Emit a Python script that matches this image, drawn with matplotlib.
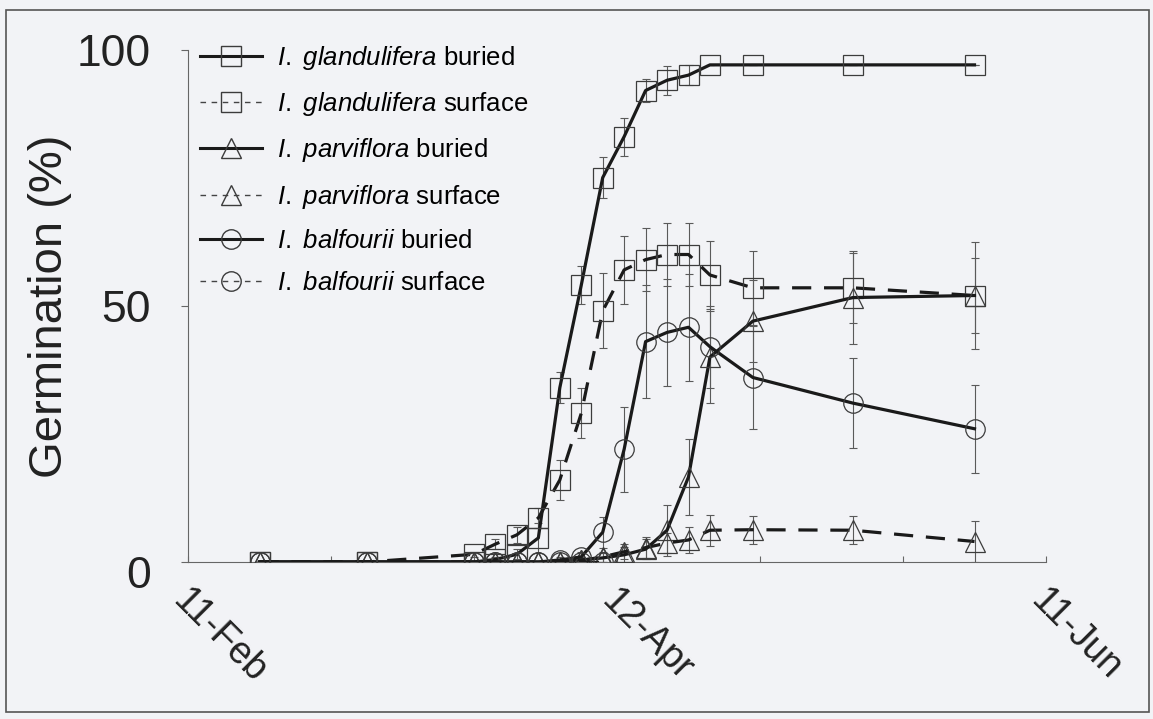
import datetime as dt

import matplotlib
matplotlib.use("Agg")
import matplotlib.pyplot as plt
import matplotlib.dates as mdates
from matplotlib.lines import Line2D
from matplotlib.patches import Rectangle
from matplotlib.transforms import ScaledTranslation

plt.rcParams['font.family'] = ['Liberation Sans', 'DejaVu Sans']
plt.rcParams['mathtext.fontset'] = 'custom'
plt.rcParams['mathtext.rm'] = 'Liberation Sans'
plt.rcParams['mathtext.it'] = 'Liberation Sans:italic'

# ---- data -------------------------------------------------------------
sample_dates = ["2013-02-21", "2013-03-08", "2013-03-23", "2013-03-26",
                "2013-03-29", "2013-04-01", "2013-04-04", "2013-04-07",
                "2013-04-10", "2013-04-13", "2013-04-16", "2013-04-19",
                "2013-04-22", "2013-04-25", "2013-05-01", "2013-05-15",
                "2013-06-01"]

gland_buried = [0, 0, 0, 0.5, 1.5, 4.7, 34, 54, 75, 83, 92, 94, 95, 97, 97, 97, 97]
gland_buried_se = [0, 0, 0, 0.5, 1, 3, 3, 3.7, 4, 3.7, 2.3, 2.8, 2, 0, 0, 0, 0]

gland_surface = [0, 0, 1.5, 3.5, 5.3, 8.6, 16, 29, 49, 57, 59, 60, 60, 56, 53.5, 53.5, 52]
gland_surface_se = [0, 0, 0.5, 1, 1.5, 2, 3.9, 4.9, 7.3, 6.7, 6.2, 6.2, 6.2, 6.6, 7.2, 6.8, 10.4]

parvi_buried = [0, 0, 0, 0, 0, 0, 0, 0.4, 0.8, 1.4, 2.5, 6.2, 16.6, 40, 47, 51.6, 52]
parvi_buried_se = [0, 0, 0, 0, 0, 0, 0, 0.5, 1, 1.5, 2, 5, 7.4, 9, 8, 9, 7.3]

parvi_surface = [0, 0, 0, 0, 0, 0, 0, 0.3, 1.0, 2.0, 2.8, 3.7, 4.3, 6.2, 6.3, 6.2, 4.0]
parvi_surface_se = [0, 0, 0, 0, 0, 0, 0, 0.5, 1, 1.5, 2, 2, 2.5, 3, 2.7, 2.7, 4]

balf_buried = [0, 0, 0, 0, 0, 0, 0.4, 1, 5.8, 22, 43, 44.8, 45.8, 42, 36, 31, 26]
balf_buried_se = [0, 0, 0, 0, 0, 0, 0.5, 1, 3, 8.3, 11, 10.4, 10.4, 8, 10, 8.8, 8.6]

# surface-sown I. balfourii: no germination, recorded up to 10 April
balf_surface = [0, 0, 0, 0, 0, 0, 0, 0, 0] + [None] * 8
balf_surface_se = [0, 0, 0, 0, 0, 0, 0, 0, 0] + [None] * 8

tick_dates = ["2013-02-11", "2013-04-12", "2013-06-11"]
minor_tick_dates = ["2013-03-03", "2013-03-23", "2013-05-02", "2013-05-22"]
y_ticks = [0, 50, 100]

# ---- figure -----------------------------------------------------------
W, H = 1153, 719
fig = plt.figure(figsize=(W / 100, H / 100), dpi=100)
fig.patch.set_facecolor('#f2f3f6')

x0, x1, y_top, y_bot = 188, 1046, 49.5, 562
ax = fig.add_axes([x0 / W, 1 - y_bot / H, (x1 - x0) / W, (y_bot - y_top) / H])
ax.set_facecolor('none')


def to_date(s):
    return dt.datetime.strptime(s, "%Y-%m-%d")


def as_float(vals):
    return [float('nan') if v is None else v for v in vals]


x = [to_date(s) for s in sample_dates]

line_col = '#1a1a1a'
edge_col = '#3c3c3c'
err_col = '#5a5a5a'
dash = (0, (6, 4))
MS = 14

series = [
    (gland_buried, gland_buried_se, 's', '-', r'$\mathit{I.\ glandulifera}$ buried'),
    (gland_surface, gland_surface_se, 's', dash, r'$\mathit{I.\ glandulifera}$ surface'),
    (parvi_buried, parvi_buried_se, '^', '-', r'$\mathit{I.\ parviflora}$ buried'),
    (parvi_surface, parvi_surface_se, '^', dash, r'$\mathit{I.\ parviflora}$ surface'),
    (balf_buried, balf_buried_se, 'o', '-', r'$\mathit{I.\ balfourii}$ buried'),
    (balf_surface, balf_surface_se, 'o', dash, r'$\mathit{I.\ balfourii}$ surface'),
]

handles, labels = [], []
for vals, se, mk, ls, lab in series:
    v = as_float(vals)
    e = as_float(se)
    ax.errorbar(x, v, yerr=e, fmt='none', ecolor=err_col, elinewidth=0.8,
                capsize=3, capthick=0.8, zorder=2)
    ax.plot(x, v, color=line_col, lw=2.3, ls=ls, marker=mk, ms=MS,
            mfc='none', mec=edge_col, mew=0.9, zorder=3)
    # legend key: surface series shown with a light short-dashed line
    if ls == '-':
        key = Line2D([], [], color=line_col, lw=2.2, ls='-', marker=mk, ms=MS,
                     mfc='none', mec=edge_col, mew=1.0)
    else:
        key = Line2D([], [], color='#444444', lw=1.0, ls=(0, (4, 4)), marker=mk,
                     ms=MS, mfc='none', mec=edge_col, mew=1.0)
    handles.append(key)
    labels.append(lab)

ax.set_ylim(0, 100)
ax.set_xlim(to_date(tick_dates[0]), to_date(tick_dates[-1]))
ax.set_yticks(y_ticks)
ax.set_xticks([to_date(s) for s in tick_dates])
ax.set_xticks([to_date(s) for s in minor_tick_dates], minor=True)
ax.xaxis.set_major_formatter(mdates.DateFormatter('%d-%b'))

for side in ('top', 'right'):
    ax.spines[side].set_visible(False)
for side in ('left', 'bottom'):
    ax.spines[side].set_color('#666666')
    ax.spines[side].set_linewidth(0.8)

ax.tick_params(axis='y', direction='out', length=5, width=0.8, color='#666666',
               pad=22, labelsize=32, labelcolor='#222222')
ax.tick_params(axis='x', which='both', direction='in', length=4, width=0.8,
               color='#666666')
ax.tick_params(axis='x', which='major', pad=24, labelsize=27, labelcolor='#222222')

shift_left = ScaledTranslation(-10 / 100, 0, fig.dpi_scale_trans)
for lbl in ax.get_xticklabels():
    lbl.set_rotation(-45)
    lbl.set_ha('left')
    lbl.set_va('center')
    lbl.set_rotation_mode('anchor')
    lbl.set_transform(lbl.get_transform() + shift_left)

# the zero label sits a little below its tick
ylbls = ax.get_yticklabels()
ylbls[0].set_transform(ylbls[0].get_transform()
                       + ScaledTranslation(0, -10 / 100, fig.dpi_scale_trans))

fig.text(50 / W, 1 - 306 / H, 'Germination (%)', rotation=90, ha='center',
         va='center', fontsize=34, color='#222222')

ax.legend(handles, labels, loc='upper left', bbox_to_anchor=(200 / W, 1 - 44 / H),
          bbox_transform=fig.transFigure, frameon=False, fontsize=18.5,
          handlelength=2.4, handletextpad=0.6, labelspacing=0.71,
          borderpad=0, borderaxespad=0, numpoints=1)

fig.add_artist(Rectangle((6 / W, 1 - 712 / H), (1149 - 6) / W, (712 - 10) / H,
                         transform=fig.transFigure, fill=False, ec='#555555', lw=1.2))

fig.savefig('out.png', dpi=100, facecolor=fig.get_facecolor())
